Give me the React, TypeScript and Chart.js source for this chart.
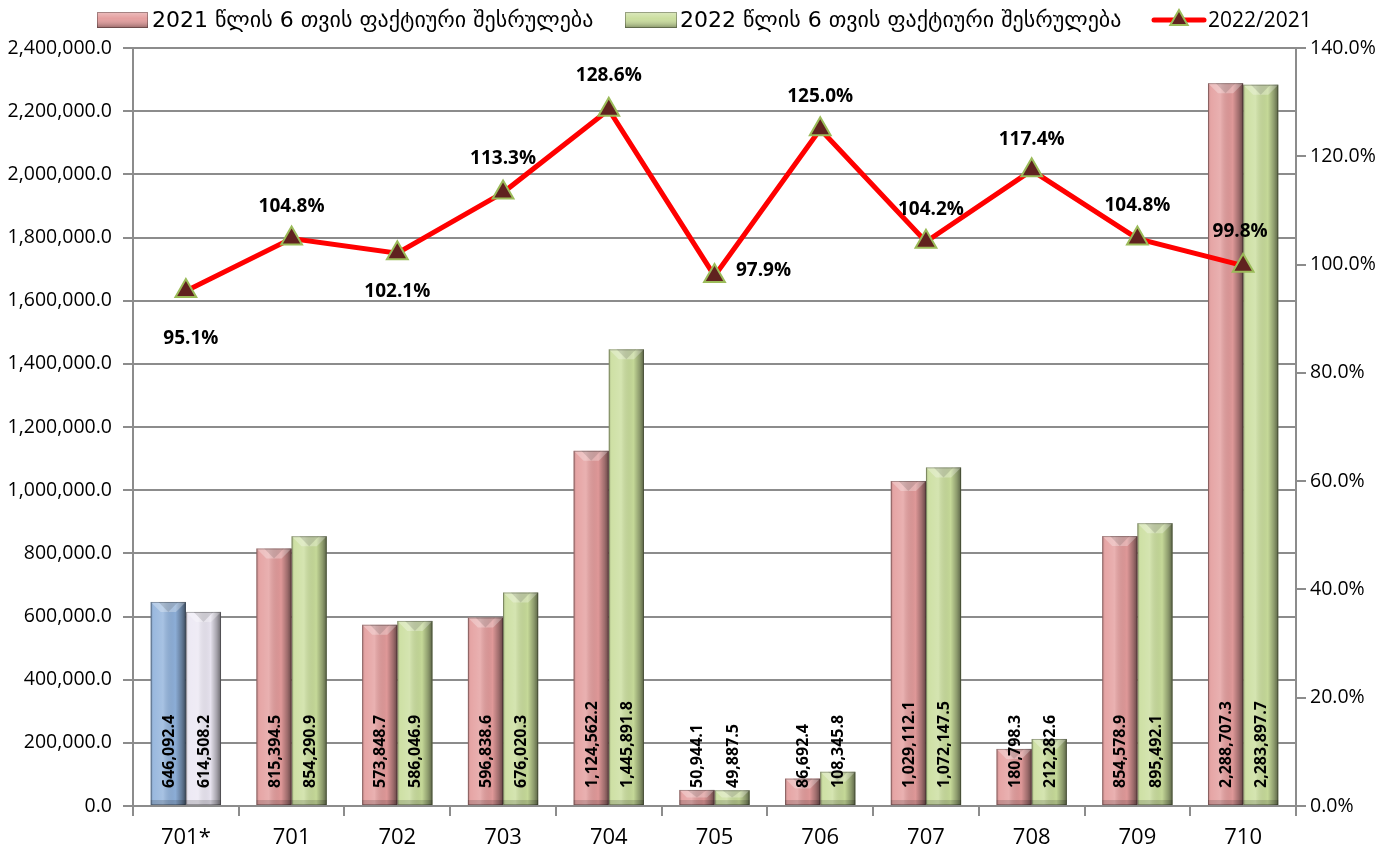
import { useEffect, useRef } from 'react';
import { Chart, registerables } from 'chart.js';

Chart.register(...registerables);

const categories = ['701*', '701', '702', '703', '704', '705', '706', '707', '708', '709', '710'];
const values2021 = [646092.4, 815394.5, 573848.7, 596838.6, 1124562.2, 50944.1, 86692.4, 1029112.1, 180798.3, 854578.9, 2288707.3];
const values2022 = [614508.2, 854290.9, 586046.9, 676020.3, 1445891.8, 49887.5, 108345.8, 1072147.5, 212282.6, 895492.1, 2283897.7];
const ratio = [95.1, 104.8, 102.1, 113.3, 128.6, 97.9, 125.0, 104.2, 117.4, 104.8, 99.8];
const seriesNames = [
  '2021 წლის 6 თვის ფაქტიური შესრულება',
  '2022 წლის 6 თვის ფაქტიური შესრულება',
  '2022/2021',
];

const GRID = '#8c8c8c';
const PINK = '#e39b9b';
const GREEN = '#c9dd9b';
const BLUE = '#8fb1db';
const LAVENDER = '#ebe7f3';
const LINE_RED = '#ff0000';
const TRI_FILL = '#60221f';
const TRI_BORDER = '#9bbb59';
const GEO_FONT = "'DejaVu Sans', 'Open Sans', sans-serif";

const fmtNum = (v: number) =>
  v.toLocaleString('en-US', { minimumFractionDigits: 1, maximumFractionDigits: 1 });

function shadeBar(ctx: CanvasRenderingContext2D, left: number, top: number, w: number, h: number) {
  if (h <= 0) return;
  const g = ctx.createLinearGradient(left, 0, left + w, 0);
  g.addColorStop(0, 'rgba(0,0,0,0.22)');
  g.addColorStop(0.08, 'rgba(255,255,255,0.10)');
  g.addColorStop(0.35, 'rgba(255,255,255,0.22)');
  g.addColorStop(0.7, 'rgba(0,0,0,0.02)');
  g.addColorStop(0.88, 'rgba(0,0,0,0.30)');
  g.addColorStop(1, 'rgba(0,0,0,0.55)');
  ctx.fillStyle = g;
  ctx.fillRect(left, top, w, h);
  const bh = Math.min(10, h / 2);
  ctx.beginPath();
  ctx.moveTo(left, top);
  ctx.lineTo(left + w, top);
  ctx.lineTo(left + w - bh, top + bh);
  ctx.lineTo(left + bh, top + bh);
  ctx.closePath();
  ctx.fillStyle = 'rgba(255,255,255,0.28)';
  ctx.fill();
  ctx.beginPath();
  ctx.moveTo(left + w * 0.22, top);
  ctx.lineTo(left + w * 0.78, top);
  ctx.lineTo(left + w / 2, top + bh);
  ctx.closePath();
  ctx.fillStyle = 'rgba(0,0,0,0.12)';
  ctx.fill();
  const bb = Math.min(5, h / 3);
  ctx.fillStyle = 'rgba(0,0,0,0.15)';
  ctx.fillRect(left, top + h - bb, w, bb);
  ctx.strokeStyle = 'rgba(0,0,0,0.28)';
  ctx.lineWidth = 1;
  ctx.strokeRect(left + 0.5, top + 0.5, w - 1, h - 1);
}

const barShadePlugin = {
  id: 'barShade',
  afterDatasetDraw(chart: any, args: any) {
    const meta = args.meta;
    if (meta.type !== 'bar') return;
    const ctx = chart.ctx;
    ctx.save();
    meta.data.forEach((el: any) => {
      const p = el.getProps(['x', 'y', 'base', 'width'], true);
      shadeBar(ctx, p.x - p.width / 2, p.y, p.width, p.base - p.y);
    });
    ctx.restore();
  },
};

const labelPlugin = {
  id: 'valueLabels',
  afterDatasetsDraw(chart: any) {
    const ctx = chart.ctx;
    ctx.save();
    [0, 1].forEach((di) => {
      const meta = chart.getDatasetMeta(di);
      const data = chart.data.datasets[di].data as number[];
      meta.data.forEach((el: any, i: number) => {
        const p = el.getProps(['x', 'y', 'base'], true);
        ctx.save();
        ctx.translate(p.x + 1, chart.chartArea.bottom - 18);
        ctx.rotate(-Math.PI / 2);
        ctx.font = "bold 16px 'Open Sans', sans-serif";
        ctx.fillStyle = '#000';
        ctx.textAlign = 'left';
        ctx.textBaseline = 'middle';
        ctx.fillText(fmtNum(data[i]), 0, 0);
        ctx.restore();
      });
    });
    const offsets: [number, number][] = [
      [5, 47], [0, -32], [0, 38], [0, -34], [0, -34], [49, -5],
      [0, -33], [5, -32], [0, -31], [0, -33], [-3, -34],
    ];
    const lmeta = chart.getDatasetMeta(2);
    const ldata = chart.data.datasets[2].data as number[];
    ctx.font = "bold 19px 'Open Sans', sans-serif";
    ctx.fillStyle = '#000';
    ctx.textAlign = 'center';
    ctx.textBaseline = 'middle';
    lmeta.data.forEach((el: any, i: number) => {
      const p = el.getProps(['x', 'y'], true);
      const [dx, dy] = offsets[i];
      ctx.fillText(ldata[i].toFixed(1) + '%', p.x + dx, p.y + dy);
    });
    ctx.restore();
  },
};

function legendBox(ctx: CanvasRenderingContext2D, x: number, y: number, w: number, h: number, color: string) {
  ctx.save();
  ctx.fillStyle = color;
  ctx.fillRect(x, y, w, h);
  const g = ctx.createLinearGradient(0, y, 0, y + h);
  g.addColorStop(0, 'rgba(255,255,255,0.35)');
  g.addColorStop(0.4, 'rgba(255,255,255,0.05)');
  g.addColorStop(1, 'rgba(0,0,0,0.35)');
  ctx.fillStyle = g;
  ctx.fillRect(x, y, w, h);
  ctx.strokeStyle = 'rgba(0,0,0,0.3)';
  ctx.lineWidth = 1;
  ctx.strokeRect(x + 0.5, y + 0.5, w - 1, h - 1);
  ctx.restore();
}

const legendPlugin = {
  id: 'customLegend',
  afterDraw(chart: any) {
    const ctx = chart.ctx as CanvasRenderingContext2D;
    ctx.save();
    const cy = 20;
    ctx.font = `22px ${GEO_FONT}`;
    ctx.textAlign = 'left';
    ctx.textBaseline = 'middle';
    legendBox(ctx, 97, 12, 51, 16, PINK);
    ctx.fillStyle = '#000';
    ctx.fillText(seriesNames[0], 152, cy + 1);
    legendBox(ctx, 625, 12, 52, 16, GREEN);
    ctx.fillStyle = '#000';
    ctx.fillText(seriesNames[1], 680, cy + 1);
    ctx.strokeStyle = LINE_RED;
    ctx.lineWidth = 5;
    ctx.lineCap = 'round';
    ctx.beginPath();
    ctx.moveTo(1154, cy);
    ctx.lineTo(1204, cy);
    ctx.stroke();
    const r = 10;
    ctx.beginPath();
    ctx.moveTo(1179, cy - r);
    ctx.lineTo(1179 + r * 0.866, cy + r * 0.5);
    ctx.lineTo(1179 - r * 0.866, cy + r * 0.5);
    ctx.closePath();
    ctx.fillStyle = TRI_FILL;
    ctx.fill();
    ctx.strokeStyle = TRI_BORDER;
    ctx.lineWidth = 2;
    ctx.stroke();
    ctx.fillStyle = '#000';
    ctx.font = "21px 'Open Sans', sans-serif";
    ctx.fillText(seriesNames[2], 1208, cy + 1);
    ctx.restore();
  },
};

export default function App() {
  const ref = useRef<HTMLCanvasElement | null>(null);
  useEffect(() => {
    if (!ref.current) return;
    Chart.defaults.font.family = "'Open Sans', sans-serif";
    Chart.defaults.color = '#000';
    const chart = new Chart(ref.current, {
      type: 'bar',
      data: {
        labels: categories,
        datasets: [
          {
            type: 'bar',
            label: seriesNames[0],
            data: values2021,
            backgroundColor: categories.map((_, i) => (i === 0 ? BLUE : PINK)),
            borderWidth: 0,
            yAxisID: 'y',
            order: 2,
            categoryPercentage: 0.665,
            barPercentage: 1.0,
          },
          {
            type: 'bar',
            label: seriesNames[1],
            data: values2022,
            backgroundColor: categories.map((_, i) => (i === 0 ? LAVENDER : GREEN)),
            borderWidth: 0,
            yAxisID: 'y',
            order: 2,
            categoryPercentage: 0.665,
            barPercentage: 1.0,
          },
          {
            type: 'line',
            label: seriesNames[2],
            data: ratio,
            yAxisID: 'y1',
            borderColor: LINE_RED,
            borderWidth: 5,
            tension: 0,
            pointStyle: 'triangle',
            pointRadius: 12,
            pointBackgroundColor: TRI_FILL,
            pointBorderColor: TRI_BORDER,
            pointBorderWidth: 2,
            order: 0,
          } as any,
        ],
      },
      options: {
        responsive: false,
        animation: false,
        devicePixelRatio: 1,
        layout: { padding: { top: 48, left: 0, right: 0, bottom: 0 } },
        plugins: {
          legend: { display: false },
          tooltip: { enabled: false },
          title: { display: false },
        },
        scales: {
          x: {
            grid: {
              offset: true,
              drawOnChartArea: false,
              drawTicks: true,
              tickLength: 10,
              color: GRID,
              lineWidth: 2,
            },
            border: { display: true, color: GRID, width: 2 },
            ticks: { font: { size: 22 }, color: '#000', padding: 9 },
            afterFit: (scale: any) => {
              scale.height = 48;
            },
          },
          y: {
            position: 'left',
            min: 0,
            max: 2400000,
            ticks: {
              stepSize: 200000,
              font: { size: 19.5 },
              color: '#000',
              padding: 11,
              callback: (v: any) => fmtNum(Number(v)),
            },
            grid: { color: GRID, lineWidth: 2, tickLength: 10, drawTicks: true },
            border: { display: true, color: GRID, width: 2 },
            afterFit: (scale: any) => {
              scale.width = 133;
            },
          },
          y1: {
            position: 'right',
            min: 0,
            max: 140,
            ticks: {
              stepSize: 20,
              font: { size: 19.5 },
              color: '#000',
              padding: 4,
              callback: (v: any) => Number(v).toFixed(1) + '%',
            },
            grid: { drawOnChartArea: false, color: GRID, lineWidth: 2, tickLength: 10, drawTicks: true },
            border: { display: true, color: GRID, width: 2 },
            afterFit: (scale: any) => {
              scale.width = 97;
            },
          },
        },
      },
      plugins: [barShadePlugin, labelPlugin, legendPlugin],
    });
    return () => chart.destroy();
  }, []);

  return (
    <div style={{ position: 'absolute', left: 0, top: 0, width: 1393, height: 854, background: '#fff' }}>
      <canvas ref={ref} width={1393} height={854} style={{ width: 1393, height: 854, display: 'block' }} />
    </div>
  );
}
